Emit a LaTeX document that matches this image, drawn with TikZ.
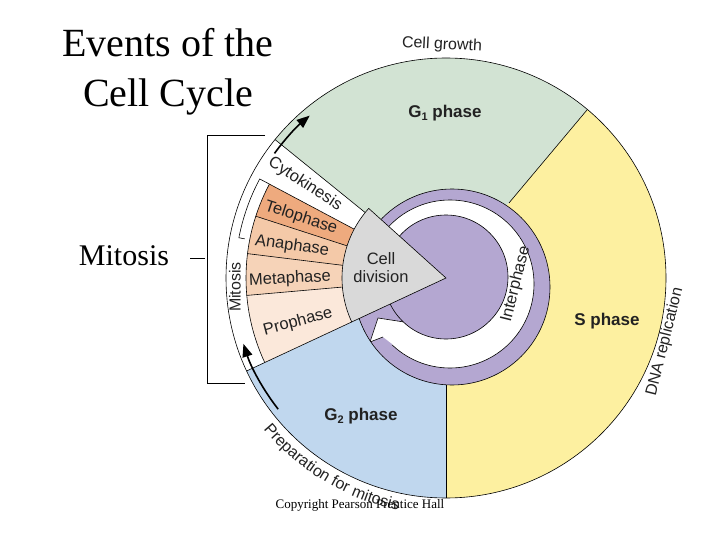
\documentclass[tikz,border=0pt]{standalone}
\usepackage{fontspec}
\setmainfont{Liberation Serif}
\newfontfamily\sansf{Liberation Sans}
\usetikzlibrary{decorations.text,arrows.meta}
\definecolor{gone}{HTML}{D2E3D3}
\definecolor{sph}{HTML}{FDF0A0}
\definecolor{gtwo}{HTML}{C0D7EE}
\definecolor{purp}{HTML}{B4A7D1}
\definecolor{grayc}{HTML}{D9D9D9}
\definecolor{telo}{HTML}{EEAA7E}
\definecolor{ana}{HTML}{F4C9A8}
\definecolor{meta}{HTML}{F6D3B8}
\definecolor{pro}{HTML}{FBE8DA}
\definecolor{txt}{HTML}{222222}
\begin{document}
\begin{tikzpicture}[x=1pt,y=-1pt,line width=0.6pt,
  lab/.style={font=\sansf\fontsize{16.5}{18}\selectfont,text=txt,align=center,inner sep=0pt},
  big/.style={font=\sansf\bfseries\fontsize{17}{19}\selectfont,text=txt,inner sep=0pt},
  outl/.style={font=\sansf\fontsize{16}{18}\selectfont,text=txt,inner sep=0pt}]
\useasboundingbox (0,0) rectangle (720,540);
\coordinate (C) at (446,278);
% sectors
\fill[gone] (C) -- ++(-50:220) arc[start angle=-50,end angle=-141,radius=220] -- cycle;
\fill[sph] (C) -- ++(90:220) arc[start angle=90,end angle=-50,radius=220] -- cycle;
\fill[gtwo] (C) -- ++(-205:220) arc[start angle=-205,end angle=-270,radius=220] -- cycle;
% phases
\fill[telo] (C) -- ++(-152:200) arc[start angle=-152,end angle=-162,radius=200] -- cycle;
\fill[ana] (C) -- ++(-162:200) arc[start angle=-162,end angle=-173,radius=200] -- cycle;
\fill[meta] (C) -- ++(-173:200) arc[start angle=-173,end angle=-185,radius=200] -- cycle;
\fill[pro] (C) -- ++(-185:200) arc[start angle=-185,end angle=-205,radius=200] -- cycle;
\draw ([shift={(-152:200)}]C) arc[start angle=-152,end angle=-205,radius=200];
\foreach \a in {152,162,173,185} \draw ([shift={(-\a:104)}]C) -- ([shift={(-\a:200)}]C);
\foreach \a in {141,205} \draw ([shift={(-\a:104)}]C) -- ([shift={(-\a:220)}]C);
\draw ([shift={(-50:98)}]C) -- ([shift={(-50:220)}]C);
\draw ([shift={(90:104)}]C) -- ([shift={(90:220)}]C);
% bracket inside mitosis band
\draw ([shift={(-152:200)}]C) -- ([shift={(-152:211)}]C) arc[start angle=-152,end angle=-169,radius=211] -- ([shift={(-169:205)}]C);
\draw (C) circle[radius=220];
% interphase ring
\begin{scope}
\clip (452,287) circle[radius=98];
\fill[purp] (452,287) circle[radius=98];
\fill[white] (450,284) circle[radius=84];
\draw (450,284) circle[radius=84];
\fill[purp] (448,280) -- ++(-200:95) arc[start angle=-200,end angle=-229,radius=95] -- cycle;
\fill[white] (370,342) -- (378,318) -- (404,322) -- (412,330) -- (400,350) -- (383,337) -- cycle;
\draw (383,337) -- (370,342) -- (378,318) -- (404,322);
\fill[purp] (446,277) circle[radius=62];
\draw (446,277) circle[radius=62];
\end{scope}
\draw (452,287) circle[radius=98];
% gray sector
\fill[grayc] (C) -- ++(-138:104) arc[start angle=-138,end angle=-205,radius=104] -- cycle;
\draw (C) ++(-138:104) -- (C) -- ++(-205:104);
\draw ([shift={(-138:104)}]C) arc[start angle=-138,end angle=-205,radius=104];
% arrows
\draw[line width=1.6pt,-{Triangle[length=13pt,width=10pt]}] ([shift={(-144:212)}]C) arc[start angle=-144,end angle=-130,radius=212];
\draw[line width=1.6pt,-{Triangle[length=13pt,width=10pt]}] ([shift={(-218:213)}]C) arc[start angle=-218,end angle=-198,radius=213];
% labels
\node[big] (g1) at (445,113) {G{\fontsize{11}{11}\selectfont\raisebox{-3pt}{1}} phase};
\node[big] (sp) at (607,321) {S phase};
\node[big] (g2) at (361,416) {G{\fontsize{11}{11}\selectfont\raisebox{-3pt}{2}} phase};
\node[lab] (cd) at (381,268) {Cell\\division};
\node[lab,rotate=76] (ip) at (516,284) {Interphase};
\node[lab,rotate=-33] (ck) at (305,184) {Cytokinesis};
\node[lab,rotate=-18] (tp) at (301,218) {Telophase};
\node[lab,rotate=-8] (ap) at (292,246) {Anaphase};
\node[lab,rotate=3] (mp) at (290,279) {Metaphase};
\node[lab,rotate=15] (pp) at (298,322) {Prophase};
\node[outl,rotate=90] (mt) at (235,287) {Mitosis};
\node[outl,rotate=-3] (cg) at (442,45) {Cell growth};
\node[outl,rotate=76] (dna) at (665,342) {DNA replication};
\path[decorate,decoration={text along path,text align=center,
  text={|\sansf\fontsize{16}{18}\selectfont\color{txt}|Preparation for mitosis}}]
  ([shift={(-210:237)}]C) arc[start angle=-210,end angle=-268,radius=237];
% left annotation
\draw[line width=0.5pt] (265,135) -- (207,135) -- (207,383) -- (245,383);
\draw[line width=0.5pt] (190,258) -- (205,258);
\node[font=\fontsize{40}{50}\selectfont,align=center,inner sep=0pt] (title) at (168,72) {Events of the\\Cell Cycle};
\node[font=\fontsize{30}{32}\selectfont,inner sep=0pt] (mlab) at (124,256) {Mitosis};
\node[font=\fontsize{13}{15}\selectfont,inner sep=0pt] (copy) at (360,505) {Copyright Pearson Prentice Hall};
\end{tikzpicture}
\end{document}
